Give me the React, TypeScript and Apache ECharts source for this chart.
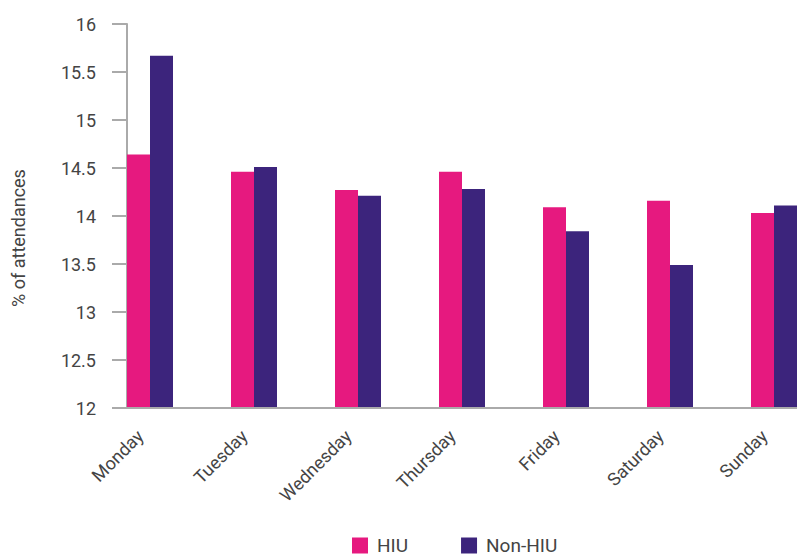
import React, { useEffect, useRef } from "react";
import * as echarts from "echarts";

const categories = ["Monday", "Tuesday", "Wednesday", "Thursday", "Friday", "Saturday", "Sunday"];
const hiuValues = [14.64, 14.46, 14.27, 14.46, 14.09, 14.16, 14.03];
const nonHiuValues = [15.67, 14.51, 14.21, 14.28, 13.84, 13.49, 14.11];
const seriesNames = ["HIU", "Non-HIU"];
const yAxisTitle = "% of attendances";
const yMin = 12;
const yMax = 16;
const yStep = 0.5;

export default function App() {
  const ref = useRef<HTMLDivElement>(null);
  useEffect(() => {
    if (!ref.current) return;
    const chart = echarts.init(ref.current, null, { renderer: "svg" });
    const font = "Roboto, 'Noto Sans', sans-serif";
    chart.setOption({
      animation: false,
      textStyle: { fontFamily: font },
      grid: [
        { left: 127, width: 670, top: 24, height: 384, outerBoundsMode: "none", containLabel: false },
        { left: 98, width: 728, top: 24, height: 384, outerBoundsMode: "none", containLabel: false },
      ],
      legend: {
        left: 352,
        top: 536,
        padding: 0,
        itemWidth: 16,
        itemHeight: 16,
        itemGap: 53,
        icon: "rect",
        textStyle: {
          fontSize: 19,
          lineHeight: 16,
          color: "#444",
          fontFamily: font,
          padding: [0, 0, 0, 4],
        },
        data: seriesNames,
      },
      xAxis: [
        {
          type: "value",
          gridIndex: 0,
          show: false,
        },
        {
          type: "category",
          gridIndex: 1,
          data: categories,
          axisLine: { show: false },
          axisTick: { show: false },
          axisLabel: {
            rotate: 45,
            fontSize: 18,
            color: "#444",
            margin: 15,
            padding: [0, 14, 0, 0],
            fontFamily: font,
          },
        },
      ],
      yAxis: [
        {
          type: "value",
          gridIndex: 0,
          min: yMin,
          max: yMax,
          interval: yStep,
          axisLine: { show: true, lineStyle: { color: "#aaa", width: 2 } },
          axisTick: { show: true, length: 15, lineStyle: { color: "#aaa", width: 2 } },
          axisLabel: { fontSize: 18, color: "#444", margin: 31, fontFamily: font },
          splitLine: { show: false },
        },
        {
          type: "value",
          gridIndex: 1,
          min: yMin,
          max: yMax,
          show: false,
          splitLine: { show: false },
        },
      ],
      graphic: [
        {
          type: "line",
          shape: { x1: 112, y1: 408, x2: 797, y2: 408 },
          style: { stroke: "#aaa", lineWidth: 2 },
          z: 10,
        },
        {
          type: "text",
          x: 18,
          y: 238,
          rotation: Math.PI / 2,
          style: {
            text: yAxisTitle,
            fontSize: 18,
            fill: "#444",
            fontFamily: font,
            align: "center",
            verticalAlign: "middle",
          },
        },
      ],
      series: [
        {
          name: seriesNames[0],
          type: "bar",
          xAxisIndex: 1,
          yAxisIndex: 1,
          data: hiuValues,
          barWidth: 23,
          barGap: "0%",
          itemStyle: { color: "#E6197F" },
        },
        {
          name: seriesNames[1],
          type: "bar",
          xAxisIndex: 1,
          yAxisIndex: 1,
          data: nonHiuValues,
          barWidth: 23,
          barGap: "0%",
          itemStyle: { color: "#3C247C" },
        },
      ],
    });
    return () => chart.dispose();
  }, []);
  return (
    <div
      ref={ref}
      style={{ position: "fixed", left: 0, top: 0, width: 801, height: 557, background: "#fff" }}
    />
  );
}
